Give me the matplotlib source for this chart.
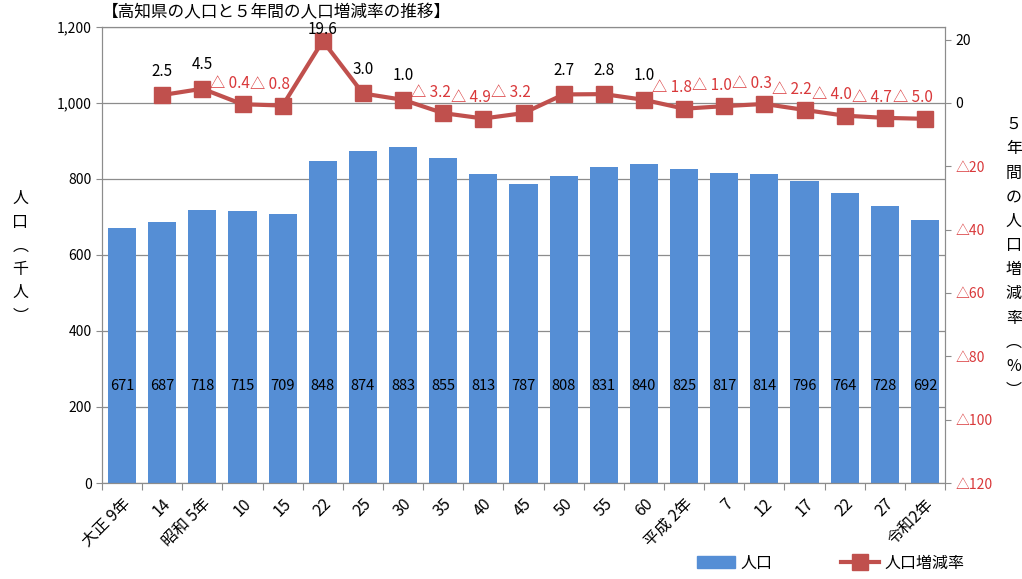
import numpy as np
import matplotlib.pyplot as plt
from matplotlib.patches import Patch
from matplotlib.lines import Line2D

plt.rcParams['font.family'] = ['Noto Sans CJK JP', 'DejaVu Sans']

# data
years = ["大正 9年", "14", "昭和 5年", "10", "15", "22", "25", "30", "35", "40", "45",
         "50", "55", "60", "平成 2年", "7", "12", "17", "22", "27", "令和2年"]
population = [671, 687, 718, 715, 709, 848, 874, 883, 855, 813, 787,
              808, 831, 840, 825, 817, 814, 796, 764, 728, 692]
# 5-year change rate, starting from the 2nd census year
rate = [2.5, 4.5, -0.4, -0.8, 19.6, 3.0, 1.0, -3.2, -4.9, -3.2,
        2.7, 2.8, 1.0, -1.8, -1.0, -0.3, -2.2, -4.0, -4.7, -5.0]

bar_col = '#558ED5'
line_col = '#C0504D'
red_txt = '#D9383A'

fig = plt.figure(figsize=(10.22, 5.79), dpi=100)
ax = fig.add_axes([0.0998, 0.1658, 0.8249, 0.7876])
ax2 = ax.twinx()

x = np.arange(len(years))
ax.bar(x, population, width=0.7, color=bar_col, zorder=2)
for xi, v in zip(x, population):
    ax.text(xi, 255, str(v), ha='center', va='center', fontsize=10.5, color='black', zorder=3)

ax.set_xlim(-0.5, len(years) - 0.5)
ax.set_ylim(0, 1200)
ax.set_yticks(range(0, 1201, 200))
ax.set_yticklabels([f"{v:,}" for v in range(0, 1201, 200)], fontsize=10)
ax.grid(axis='y', color='#8c8c8c', lw=0.9, zorder=0)
ax.set_axisbelow(True)

# ticks between categories, labels at centers
ax.set_xticks(np.arange(-0.5, len(years), 1))
ax.set_xticklabels([])
ax.set_xticks(x, minor=True)
ax.set_xticklabels(years, minor=True, rotation=45, ha='right', rotation_mode='anchor', fontsize=11.5)
ax.tick_params(axis='x', which='major', length=5, color='#8c8c8c')
ax.tick_params(axis='x', which='minor', length=0, pad=9)
ax.tick_params(axis='y', length=4, color='#8c8c8c')

for s in ax.spines.values():
    s.set_color('#8c8c8c')
for s in ax2.spines.values():
    s.set_color('#8c8c8c')

# rate line on right axis
xr = x[1:]
ax2.plot(xr, rate, color=line_col, lw=3, marker='s', ms=11, zorder=4)
ax2.set_ylim(-120, 24)
rt = list(range(-120, 21, 20))
ax2.set_yticks(rt)
ax2.set_yticklabels([f"△{abs(v)}" if v < 0 else str(v) for v in rt], fontsize=10)
for lab, v in zip(ax2.get_yticklabels(), rt):
    lab.set_color(red_txt if v < 0 else 'black')
ax2.tick_params(axis='y', length=4, color='#8c8c8c')

for xi, v in zip(xr, rate):
    if v >= 0:
        ax2.text(xi, min(v + 7.6, 23.2), f"{v:.1f}", ha='center', va='center',
                 fontsize=11, color='black', zorder=5)
    else:
        ax2.annotate(f"△ {abs(v):.1f}", (xi, v), xytext=(-9, 15), textcoords='offset points',
                     ha='center', va='center', fontsize=11, color=red_txt, zorder=5)

# titles and axis labels
fig.text(0.1, 0.977, "【高知県の人口と５年間の人口増減率の推移】", fontsize=12, va='center', ha='left')
fig.text(0.02, 0.555, "人\n口\n︵\n千\n人\n︶", fontsize=11.5, ha='center', va='center', linespacing=1.5)
fig.text(0.992, 0.555, "５\n年\n間\nの\n人\n口\n増\n減\n率\n︵\n%\n︶", fontsize=11.5,
         ha='center', va='center', linespacing=1.55)

handles = [Patch(color=bar_col), Line2D([], [], color=line_col, lw=3, marker='s', ms=11)]
fig.legend(handles, ["人口", "人口増減率"], loc='lower left', bbox_to_anchor=(0.668, -0.012),
           ncol=2, frameon=False, fontsize=11.5, handlelength=2.4, handletextpad=0.3,
           columnspacing=4.3)

plt.savefig('out.png', dpi=100)
